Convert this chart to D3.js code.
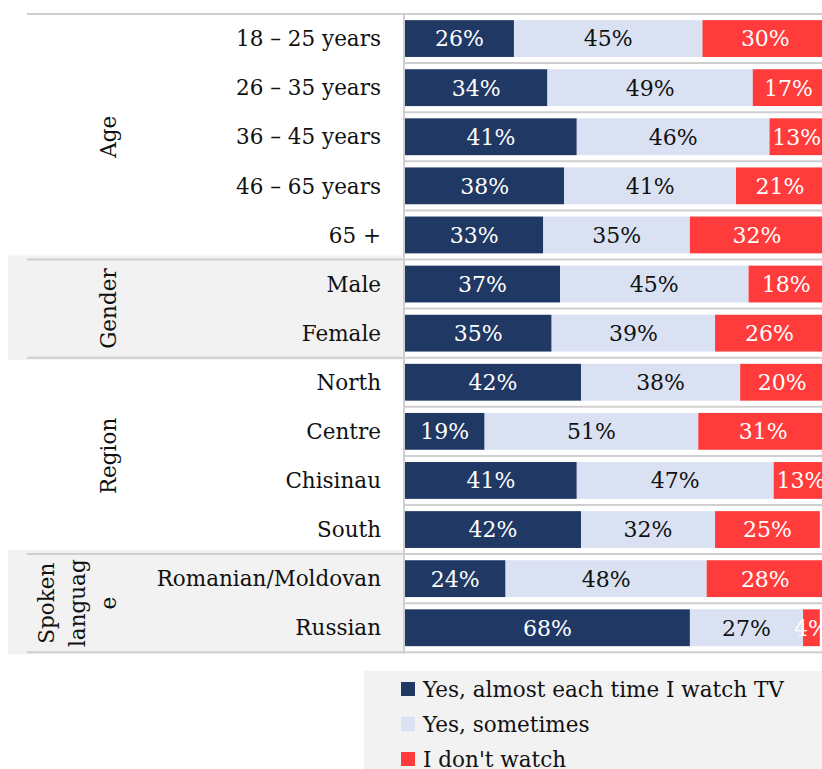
<!DOCTYPE html>
<html>
<head>
<meta charset="utf-8">
<script src="https://cdn.jsdelivr.net/npm/d3@7"></script>
<style>
body{margin:0;background:#fff;}
text{font-family:"DejaVu Serif",serif;}
</style>
</head>
<body>
<div id="chart-area"></div>
<script>
// ---------DATA-----------
let rows=["18 – 25 years","26 – 35 years","36 – 45 years","46 – 65 years","65 +",
	"Male","Female","North","Centre","Chisinau","South","Romanian/Moldovan","Russian"];
let groups=["Age","Age","Age","Age","Age","Gender","Gender","Region","Region","Region","Region","Spoken language","Spoken language"];
let groupNames=["Age","Gender","Region","Spoken language"];
let groupLines=[["Age"],["Gender"],["Region"],["Spoken","languag","e"]];
let yesAlways=[26,34,41,38,33,37,35,42,19,41,42,24,68];
let yesSometimes=[45,49,46,41,35,45,39,38,51,47,32,48,27];
let dontWatch=[30,17,13,21,32,18,26,20,31,13,25,28,4];
let seriesNames=["Yes, almost each time I watch TV","Yes, sometimes","I don't watch"];
let seriesColors=["#203864","#d9e1f2","#ff3b3b"];
let labelColors=["#fff","#111","#fff"];

let width=822, height=769;
let chartTop=14, rowH=49.1;
let barLeft=405;

let svg=d3.select("#chart-area").append("svg")
	.attr("width",width)
	.attr("height",height);

//---------SCALES---------
let x=d3.scaleLinear().domain([0,100]).range([barLeft,barLeft+419]);
let y=d3.scaleBand().domain(rows).range([chartTop,chartTop+rowH*rows.length]).paddingInner(0.25).paddingOuter(0.125);

//---------GROUP BACKGROUNDS------
groupNames.forEach(function(gname,gi){
	let idx=[];
	groups.forEach((g,i)=>{if(g===gname) idx.push(i);});
	let y0=chartTop+rowH*idx[0];
	let y1=chartTop+rowH*(idx[idx.length-1]+1);
	if(gi%2===1){
		svg.append("rect")
			.attr("x",8).attr("y",y0-4)
			.attr("width",barLeft-8).attr("height",y1-y0+6)
			.attr("fill","#f2f2f2");
	}
});

//---------ROW LINES------
for(let i=0;i<=rows.length;i++){
	let yy=chartTop+rowH*i;
	let isGroup=(i===0||i===rows.length||groups[i]!==groups[i-1]);
	svg.append("line")
		.attr("x1",isGroup?27:barLeft).attr("x2",width)
		.attr("y1",yy).attr("y2",yy)
		.attr("stroke","#cfcfcf").attr("stroke-width",2);
}
svg.append("line")
	.attr("x1",barLeft-1).attr("x2",barLeft-1)
	.attr("y1",chartTop).attr("y2",chartTop+rowH*rows.length)
	.attr("stroke","#cfcfcf").attr("stroke-width",2);

//---------BARS----------
let data=rows.map(function(r,i){
	let vals=[yesAlways[i],yesSometimes[i],dontWatch[i]];
	let start=0;
	return vals.map(function(v,s){
		let seg={row:r,s:s,x0:start,x1:start+v,v:v};
		start+=v;
		return seg;
	});
}).flat();

svg.selectAll("rect.bar").data(data).enter()
	.append("rect")
	.attr("class","bar")
	.attr("x",d=>x(d.x0))
	.attr("y",d=>y(d.row))
	.attr("width",d=>x(d.x1)-x(d.x0))
	.attr("height",y.bandwidth())
	.attr("fill",d=>seriesColors[d.s]);

svg.selectAll("text.val").data(data).enter()
	.append("text")
	.attr("class","val")
	.attr("x",d=>(x(d.x0)+x(d.x1))/2)
	.attr("y",d=>y(d.row)+y.bandwidth()/2)
	.attr("dy","0.36em")
	.attr("text-anchor","middle")
	.attr("font-size","22px")
	.attr("fill",d=>labelColors[d.s])
	.text(d=>d.v+"%");

//---------ROW LABELS---------
svg.selectAll("text.row").data(rows).enter()
	.append("text")
	.attr("class","row")
	.attr("x",381)
	.attr("y",d=>y(d)+y.bandwidth()/2)
	.attr("dy","0.36em")
	.attr("text-anchor","end")
	.attr("font-size","21.5px")
	.attr("fill","#111")
	.text(d=>d);

//---------GROUP LABELS---------
groupNames.forEach(function(gname,gi){
	let idx=[];
	groups.forEach((g,i)=>{if(g===gname) idx.push(i);});
	let cy=chartTop+rowH*(idx[0]+idx[idx.length-1]+1)/2;
	let lines=groupLines[gi];
	let t=svg.append("text")
		.attr("transform","translate("+108+","+cy+") rotate(-90)")
		.attr("text-anchor","middle")
		.attr("font-size","21.5px")
		.attr("fill","#111");
	lines.forEach(function(l,li){
		t.append("tspan")
			.attr("x",0)
			.attr("y",(li-(lines.length-1))*31)
			.attr("dy","0.36em")
			.text(l);
	});
});

//---------LEGEND---------
let legend=svg.append("g");
legend.append("rect")
	.attr("x",364).attr("y",671)
	.attr("width",width-364).attr("height",height-671)
	.attr("fill","#f2f2f2");
seriesNames.forEach(function(name,i){
	let row=legend.append("g")
		.attr("transform","translate(401,"+(689+i*35)+")");
	row.append("rect")
		.attr("x",0).attr("y",-7)
		.attr("width",14).attr("height",14)
		.attr("fill",seriesColors[i]);
	row.append("text")
		.attr("x",22).attr("y",0)
		.attr("dy","0.36em")
		.attr("font-size","21.5px")
		.attr("fill","#111")
		.text(name);
});
</script>
</body>
</html>
